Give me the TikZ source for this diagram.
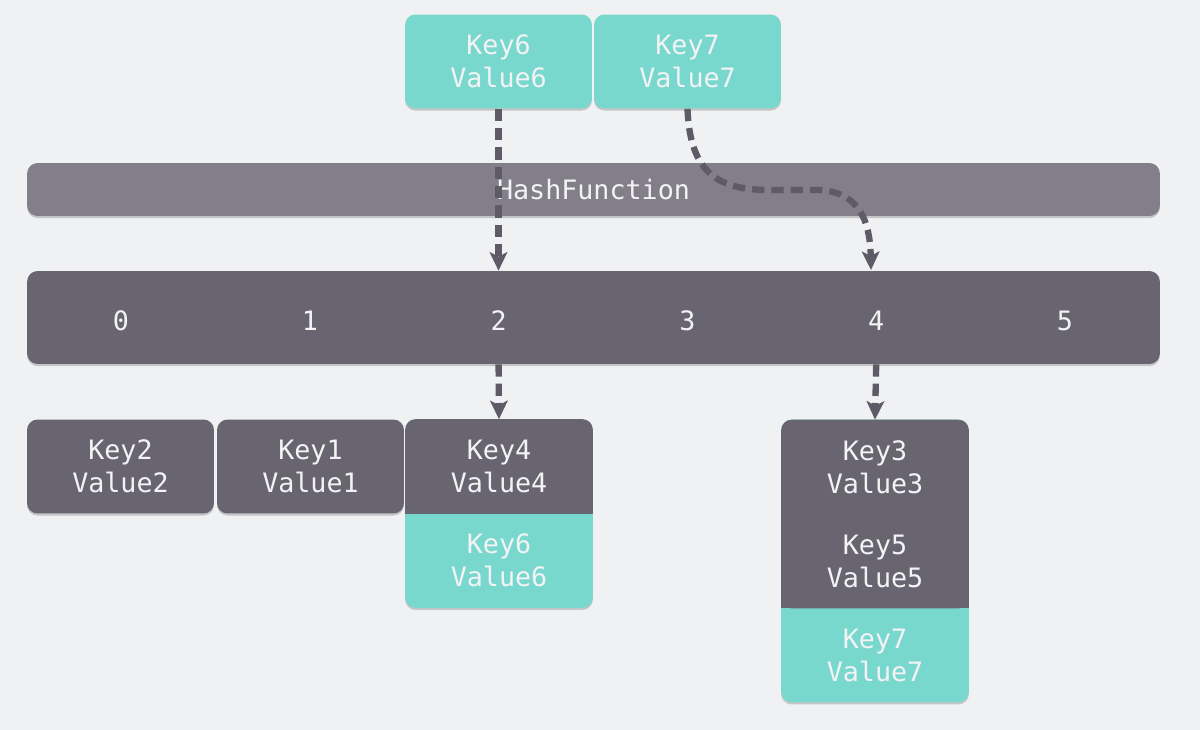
\documentclass[tikz,border=0pt]{standalone}
\usepackage{fontspec}
\newfontfamily\codefont{DejaVu Sans Mono}
\usetikzlibrary{arrows.meta,calc,shadows,backgrounds}

\definecolor{paper}{HTML}{F0F1F3}
\definecolor{mint}{HTML}{78D8CD}
\definecolor{slot}{HTML}{686571}
\definecolor{hashc}{HTML}{827F8B}
\definecolor{linkc}{HTML}{5E5B67}
\definecolor{txt}{HTML}{F3F3F5}

\tikzset{
  softshadow/.style={drop shadow={shadow xshift=0pt,shadow yshift=-1.2pt,opacity=.18,fill=black}},
  cell/.style={text=txt,font=\codefont\fontsize{15.2}{18.8}\selectfont,align=center,
    minimum width=3.74cm,minimum height=1.88cm,inner sep=0pt},
  darkcell/.style={cell,fill=slot,rounded corners=6pt,softshadow},
  mintcell/.style={cell,fill=mint,rounded corners=6pt,softshadow},
  bar/.style={text=txt,font=\codefont\fontsize{15.2}{18.8}\selectfont,inner sep=0pt,
    minimum width=22.66cm,rounded corners=6pt,softshadow},
  idx/.style={text=txt,font=\codefont\fontsize{15.2}{18.8}\selectfont,inner sep=0pt},
  link/.style={draw=linkc,line width=3.6pt,dash pattern=on 7pt off 4pt,
    -{Stealth[width=10pt,length=10.5pt,inset=2.5pt]}},
}

\begin{document}
\begin{tikzpicture}[x=0.02cm,y=-0.02cm]
\useasboundingbox (0,0) rectangle (1200,730);

% new entries
\node[mintcell] (k6) at (498.5,61.5) {Key6\\Value6};
\node[mintcell] (k7) at (687.5,61.5) {Key7\\Value7};

% hash function and table
\node[bar,fill=hashc,minimum height=1.06cm] (hash) at (593.5,189.5) {\raisebox{-2pt}{HashFunction}};
\node[bar,fill=slot,minimum height=1.86cm] (arr) at (593.5,317.5) {};
\foreach \i in {0,...,5}
  \node[idx] (c\i) at ({121+188.8*\i},321) {\i};

% buckets
\node[darkcell] (b0) at (120.5,466.5) {Key2\\Value2};
\node[darkcell] (b1) at (310.5,466.5) {Key1\\Value1};
\node[cell] (b2) at (499,466.5) {Key4\\Value4};
\node[cell] (b2x) at (499,560.5) {Key6\\Value6};
\node[cell] (b4) at (875,467) {Key3\\Value3};
\node[cell] (b4y) at (875,561) {Key5\\Value5};
\node[cell] (b4x) at (875,655) {Key7\\Value7};

% paper and chained cells
\begin{scope}[on background layer]
\fill[paper] (0,0) rectangle (1200,730);
\fill[mint,rounded corners=6pt,softshadow] (b2.north west) rectangle (b2x.south east);
\fill[slot,rounded corners=6pt] (b2.north west) rectangle (b2.south east);
\fill[slot] (b2.west) rectangle (b2.south east);
\fill[mint,rounded corners=6pt,softshadow] (b4.north west) rectangle (b4x.south east);
\fill[slot,rounded corners=6pt] (b4.north west) rectangle (b4y.south east);
\fill[slot] (b4y.west) rectangle (b4y.south east);
\end{scope}

% links
\coordinate (h4) at (871,270);
\draw[link] (k6.south) -- (k6.south |- arr.north);
\draw[link] (k7.south) .. controls (690,175) and (720,190) .. (770,190)
  -- (815,190) .. controls (855,190) and (870,215) .. (h4);
\draw[link] (c2 |- arr.south) -- (b2.north);
\draw[link] (c4 |- arr.south) -- (b4.north);

\end{tikzpicture}
\end{document}
